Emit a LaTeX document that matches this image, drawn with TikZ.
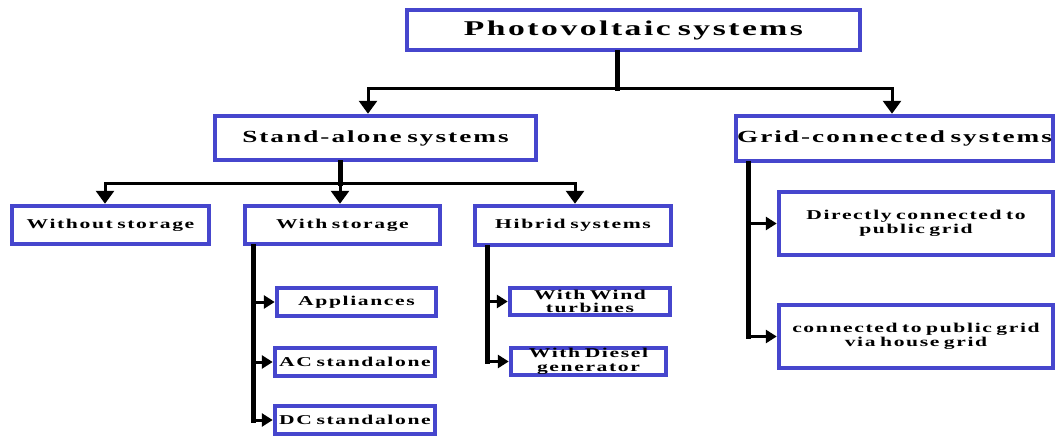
\documentclass[tikz,border=0pt]{standalone}
\usepackage{fontspec}
\usetikzlibrary{arrows.meta}
\newfontfamily\boxfont{Liberation Serif Bold}[FakeStretch=1.6,LetterSpace=12,WordSpace=2.5]
\definecolor{boxblue}{RGB}{70,70,205}

\begin{document}
\begin{tikzpicture}[x=1pt,y=-1pt]
		\tikzset{box/.style = {draw=boxblue, line width=4.5pt, inner sep=0pt, align=center, text=black},
			big/.style = {box, font=\boxfont\fontsize{21}{21}\selectfont},
			mid/.style = {box, font=\boxfont\fontsize{17}{17}\selectfont},
			small/.style = {box, font=\boxfont\fontsize{13.5}{13.5}\selectfont},
			link/.style = {draw=black, line width=3pt},
			trunk/.style = {draw=black, line width=5pt, line cap=rect},
			down/.style = {link, -{Triangle[width=18pt,length=13pt]}},
			side/.style = {link, -{Triangle[width=13pt,length=11pt]}}}
		\useasboundingbox (0,0) rectangle (1056,436);
		\node[big, text width=453pt, minimum height=40pt] (0) at (633.5,30) {Photovoltaic systems};
		\node[mid, text width=321pt, minimum height=44pt] (1) at (375.5,138) {Stand-alone systems};
		\node[mid, text width=317pt, minimum height=45pt] (2) at (894.5,138.5) {Grid-connected systems};
		\node[small, text width=197pt, minimum height=38pt] (3) at (110.5,225) {Without storage};
		\node[small, text width=195pt, minimum height=38pt] (4) at (342.5,225) {With storage};
		\node[small, text width=196pt, minimum height=39pt] (5) at (573,225.5) {Hibrid systems};
		\node[small, text width=159pt, minimum height=28pt] (6) at (356.5,302) {Appliances};
		\node[small, text width=160pt, minimum height=28pt] (7) at (355,362) {AC standalone};
		\node[small, text width=160pt, minimum height=28pt] (8) at (355,420) {DC standalone};
		\node[small, text width=160pt, minimum height=27pt] (9) at (590,301.5) {With Wind\\turbines};
		\node[small, text width=155pt, minimum height=27pt] (10) at (588.5,361.5) {With Diesel\\generator};
		\node[small, text width=274pt, minimum height=63pt] (11) at (916,223.5) {Directly connected to\\public grid};
		\node[small, text width=274pt, minimum height=63pt] (12) at (916,336.5) {connected to public grid\\via house grid};
		%edges
		\coordinate (s0) at (617,88);
		\draw[trunk] ([xshift=-16.5pt]0.south) -- (s0);
		\draw[down] (s0) -| ([xshift=-7.5pt]1.north);
		\draw[down] (s0) -| ([xshift=-2.5pt]2.north);
		\coordinate (s1) at (340,183);
		\draw[trunk] ([xshift=-35.5pt]1.south) -- (s1);
		\draw[down] (s1) -| ([xshift=-5.5pt]3.north);
		\draw[down] (s1) -- ([xshift=-2.5pt]4.north);
		\draw[down] (s1) -| ([xshift=2pt]5.north);
		\coordinate (s2) at ([xshift=-89.5pt]4.south);
		\draw[trunk] (s2) -- (s2 |- 8.west);
		\draw[side] (s2 |- 6.west) -- (6.west);
		\draw[side] (s2 |- 7.west) -- (7.west);
		\draw[side] (s2 |- 8.west) -- (8.west);
		\coordinate (s3) at ([xshift=-86pt]5.south);
		\draw[trunk] (s3) -- (s3 |- 10.west);
		\draw[side] (s3 |- 9.west) -- (9.west);
		\draw[side] (s3 |- 10.west) -- (10.west);
		\coordinate (s4) at ([xshift=-146.5pt]2.south);
		\draw[trunk] (s4) -- (s4 |- 12.west);
		\draw[side] (s4 |- 11.west) -- (11.west);
		\draw[side] (s4 |- 12.west) -- (12.west);
\end{tikzpicture}
\end{document}
